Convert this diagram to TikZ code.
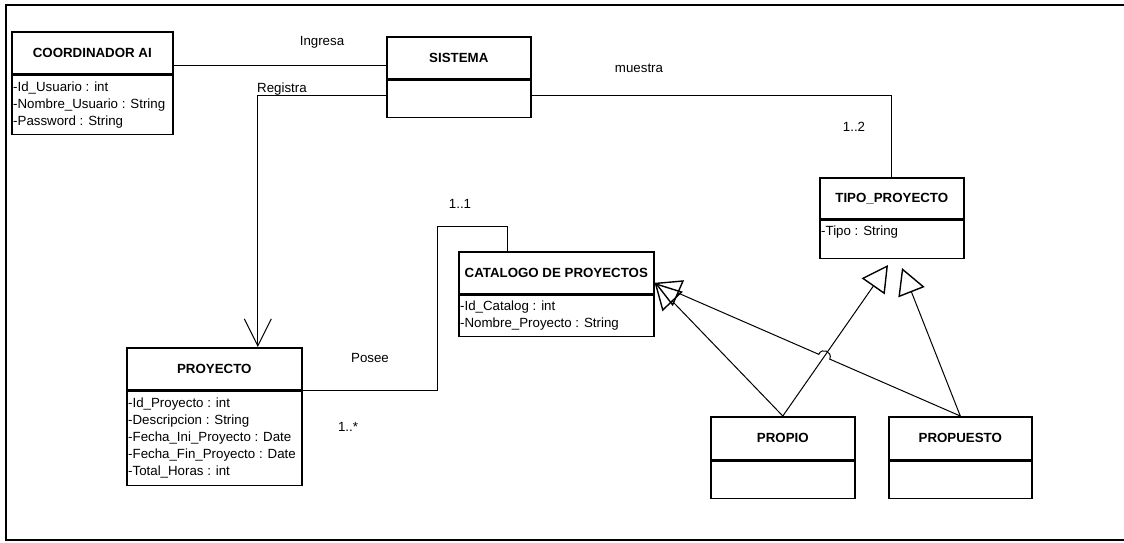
\documentclass[tikz,border=0pt]{standalone}
\usepackage{fontspec}
\setmainfont{Liberation Sans}
\usetikzlibrary{arrows.meta,calc}
\begin{document}
\begin{tikzpicture}[x=1pt,y=-1pt,
  txt/.style={font=\fontsize{13.3}{17}\selectfont, inner sep=0pt},
  hdr/.style={draw, line width=1.6pt, anchor=north west, inner sep=0pt,
    minimum height=42, font=\fontsize{13.3}{17}\selectfont\bfseries},
  body/.style={draw, line width=1.6pt, anchor=north, inner sep=0pt},
  attr/.style={txt, anchor=west, align=left, xshift=2pt},
  conn/.style={line width=1pt},
  assoc/.style={conn, -{Straight Barb[length=27pt, width=27pt]}},
  gen/.style={conn, -{Triangle[open, length=26pt, width=28pt, line width=1.4pt]}},
  lbl/.style={txt}]
\useasboundingbox (0,0) rectangle (1124,542);

% outer frame
\draw[line width=2.6pt] (1130,5) -| (6,540) -- (1130,540);

% classes
\node[hdr, minimum width=161] (coordH) at (11,31) {COORDINADOR AI};
\node[body, minimum width=161, minimum height=59] (coordB) at (coordH.south) {};
\node[attr] (coordT) at (coordB.west) {-Id\_Usuario : int\\-Nombre\_Usuario : String\\-Password : String};

\node[hdr, minimum width=144] (sisH) at (386,36) {SISTEMA};
\node[body, minimum width=144, minimum height=37] (sisB) at (sisH.south) {};

\node[hdr, minimum width=144, minimum height=41] (tipoH) at (819,177) {TIPO\_PROYECTO};
\node[body, minimum width=144, minimum height=38] (tipoB) at (tipoH.south) {};
\node[attr] (tipoT) at ([yshift=7pt]tipoB.west) {-Tipo : String};

\node[hdr, minimum width=175] (proyH) at (126,347) {PROYECTO};
\node[body, minimum width=175, minimum height=94] (proyB) at (proyH.south) {};
\node[attr] (proyT) at (proyB.west) {-Id\_Proyecto : int\\-Descripcion : String\\-Fecha\_Ini\_Proyecto : Date\\-Fecha\_Fin\_Proyecto : Date\\-Total\_Horas : int};

\node[hdr, minimum width=195] (catH) at (458,251) {CATALOGO DE PROYECTOS};
\node[body, minimum width=195, minimum height=41] (catB) at (catH.south) {};
\node[attr] (catT) at (catB.west) {-Id\_Catalog : int\\-Nombre\_Proyecto : String};

\node[hdr, minimum width=144, minimum height=43] (propH) at (710,416) {PROPIO};
\node[body, minimum width=144, minimum height=37] (propB) at (propH.south) {};

\node[hdr, minimum width=143, minimum height=43] (propuH) at (888,416) {PROPUESTO};
\node[body, minimum width=143, minimum height=37] (propuB) at (propuH.south) {};

% associations
\draw[conn] ([yshift=-12.5pt]coordH.east) -- ([yshift=-12.5pt]coordH.east -| sisH.west);
\draw[assoc] ([yshift=3.5pt]sisB.west) -| ([xshift=43.5pt]proyH.north);
\draw[conn] ([yshift=3.5pt]sisB.east) -| (tipoH.north);
\draw[conn] (proyH.south east) -- ++(135,0) |- ([xshift=-48.5pt,yshift=25pt]catH.north)
  -- ([xshift=-48.5pt]catH.north);

% association labels
\node[lbl] (lIngresa) at (322,42) {Ingresa};
\node[lbl] (lRegistra) at (282,89) {Registra};
\node[lbl] (lMuestra) at (639,68) {muestra};
\node[lbl] (lMuestraM) at (854,127) {1..2};
\node[lbl] (lPosee) at (370,358) {Posee};
\node[lbl] (lPoseeA) at (348,427) {1..*};
\node[lbl] (lPoseeB) at (460,204) {1..1};

% generalizations
\coordinate (tipC) at ([yshift=-10pt]catH.east);
\coordinate (tipT1) at (888,265);
\coordinate (tipT2) at (902,268);
\draw[gen] (propH.north) -- (tipT1);
\draw[gen] (propuH.north) -- (tipT2);
\draw[gen] (propH.north) -- (tipC);
\coordinate (X) at (intersection of propuH.north--tipC and propH.north--tipT1);
\coordinate (J1) at ($(X)!6pt!(propuH.north)$);
\coordinate (J2) at ($(X)!6pt!(tipC)$);
\draw[gen] (propuH.north) -- (J1)
  .. controls ($(J1)!1.33!-90:(X)$) and ($(J2)!1.33!90:(X)$) .. (J2) -- (tipC);
\end{tikzpicture}
\end{document}
